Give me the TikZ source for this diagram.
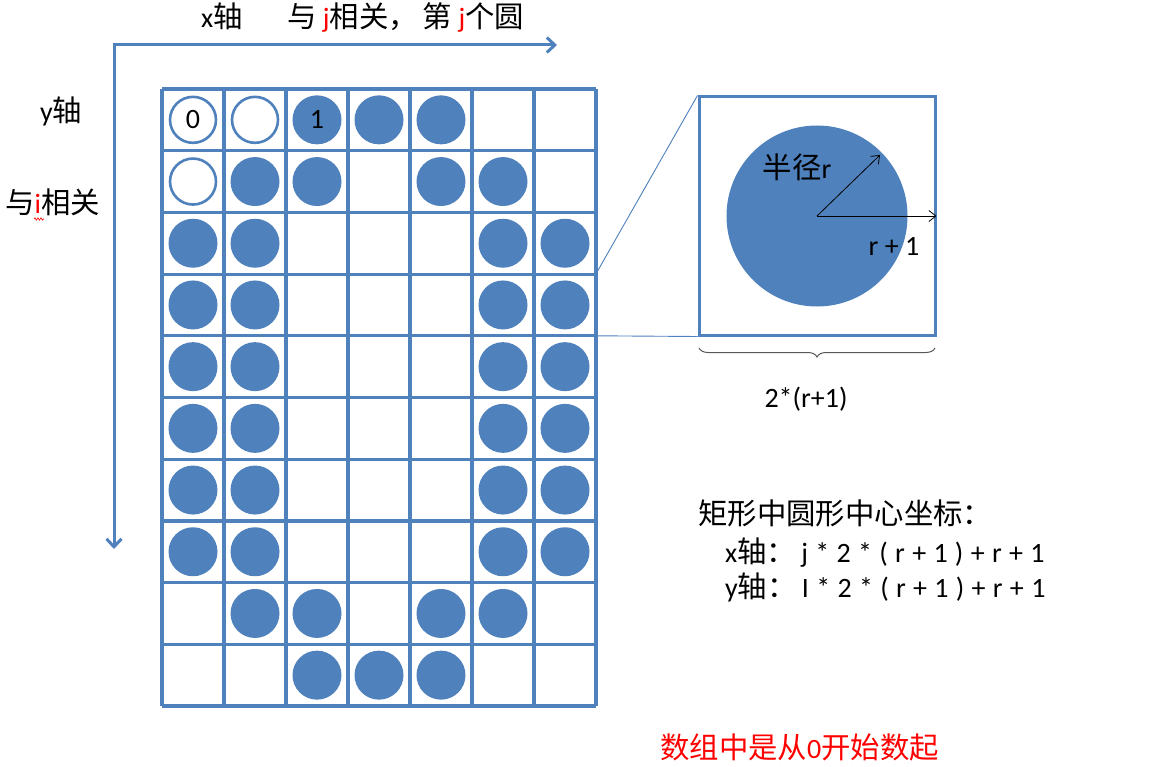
\documentclass[tikz,border=0pt]{standalone}
\usepackage{fontspec}
\setmainfont{Carlito}
\newfontfamily\cjk[Scale=1.05]{Noto Sans CJK SC}
\usetikzlibrary{arrows.meta,decorations.pathreplacing,decorations.pathmorphing}
\definecolor{ppblue}{HTML}{4F81BD}
\newcommand\zh[1]{{\cjk #1}}
\begin{document}
\begin{tikzpicture}[x=1pt,y=-1pt,
  gridline/.style={draw=ppblue, line width=3.2pt},
  dot/.style={circle, minimum size=49pt, inner sep=0pt, fill=ppblue},
  ring/.style={circle, minimum size=46pt, inner sep=0pt, draw=ppblue, line width=2.6pt, fill=white},
  txt/.style={font=\fontsize{28}{34}\selectfont, inner sep=0pt, text=black},
  axisline/.style={draw=ppblue, line width=3pt, {Straight Barb[length=8pt,width=15pt,line width=3pt]}-{Straight Barb[length=8pt,width=15pt,line width=3pt]}},
  zoomline/.style={draw=ppblue, line width=0.9pt},
  thinarrow/.style={draw=black, line width=0.8pt, -{Straight Barb[length=7pt,width=11pt]}},
  bracestyle/.style={draw=black!65, line width=1pt, decorate, decoration={brace, mirror, amplitude=9pt}}
]
\useasboundingbox[fill=white] (0,0) rectangle (1158,767);

% axes
\coordinate (origin) at (114,45);
\coordinate (xend) at (557,45);
\coordinate (yend) at (114,549);
\draw[axisline] (yend) -- (origin) -- (xend);

% axis labels
\node[txt, anchor=base west] (xlab) at (201,28) {x\zh{轴}};
\node[txt, anchor=base west] (xrel) at (287,28) {\zh{与} \textcolor{red}{j}\zh{相关，}\hspace{5pt}\zh{第} \textcolor{red}{j}\zh{个圆}};
\node[txt, anchor=base west] (ylab) at (40,122) {y\zh{轴}};
\node[txt, anchor=base west] (yrel) at (5,214) {\zh{与}\textcolor{red}{i}\zh{相关}};
\draw[red, line width=0.6pt, decorate, decoration={snake, amplitude=1.2pt, segment length=3pt}] (34,219) -- (44,219);

% grid
\foreach \k in {0,...,7} {\draw[gridline] (162+62*\k,89) -- (162+62*\k,706);}
\foreach \k in {0,...,10} {\draw[gridline] (162,89+61.7*\k) -- (596,89+61.7*\k);}

% circles: F filled, O open, . empty
\foreach \r in {0,...,9} {
  \ifcase\r
    \def\pat{O,O,F,F,F,.,.}\or
    \def\pat{O,F,F,.,F,F,.}\or
    \def\pat{F,F,.,.,.,F,F}\or
    \def\pat{F,F,.,.,.,F,F}\or
    \def\pat{F,F,.,.,.,F,F}\or
    \def\pat{F,F,.,.,.,F,F}\or
    \def\pat{F,F,.,.,.,F,F}\or
    \def\pat{F,F,.,.,.,F,F}\or
    \def\pat{.,F,F,.,F,F,.}\or
    \def\pat{.,.,F,F,F,.,.}\fi
  \foreach \t [count=\c from 0] in \pat {
    \if\t F
      \node[dot] (c-\r-\c) at (193+62*\c,119.85+61.7*\r) {};
    \fi
    \if\t O
      \node[ring] (c-\r-\c) at (193+62*\c,119.85+61.7*\r) {};
    \fi
  }
}
\node[txt] (lab0) at (c-0-0) {0};
\node[txt] (lab1) at (c-0-2) {1};

% enlarged cell
\node[draw=ppblue, line width=3pt, minimum width=236pt, minimum height=238pt, inner sep=0pt] (bigcell) at (817,216) {};
\node[circle, fill=ppblue, minimum size=181pt, inner sep=0pt] (bigdot) at (817,216) {};
\coordinate (rtip) at (880,155);
\draw[thinarrow] (bigdot.center) -- (rtip);
\draw[thinarrow] (bigdot.center) -- (bigcell.east);
\node[txt] (rlab) at (797,167) {\zh{半径}r};
\node[txt] (r1lab) at (894,246) {r + 1};

\coordinate (gridA) at (596,273.8);
\coordinate (gridB) at (596,335.8);
\draw[zoomline] (gridA) -- (bigcell.north west);
\draw[zoomline] (gridB) -- (bigcell.south west);

\coordinate (brL) at (699,348);
\coordinate (brR) at (935,348);
\draw[bracestyle] (brL) -- (brR);
\node[txt] (sizelab) at (806,399) {2*(r+1)};

% formula text
\node[txt, anchor=base west] (ftitle) at (698,524) {\zh{矩形中圆形中心坐标：}};
\node[txt, anchor=base west] (fx) at (725,562) {\spaceskip=7.3pt\relax x\zh{轴：}\hspace{-2pt} j * 2 * ( r + 1 ) + r + 1};
\node[txt, anchor=base west] (fy) at (725,597) {\spaceskip=7.3pt\relax y\zh{轴：}\hspace{-2pt} I * 2 * ( r + 1 ) + r + 1};
\node[txt, anchor=base west, text=red] (note) at (660,758) {\zh{数组中是从}0\zh{开始数起}};
\end{tikzpicture}
\end{document}
